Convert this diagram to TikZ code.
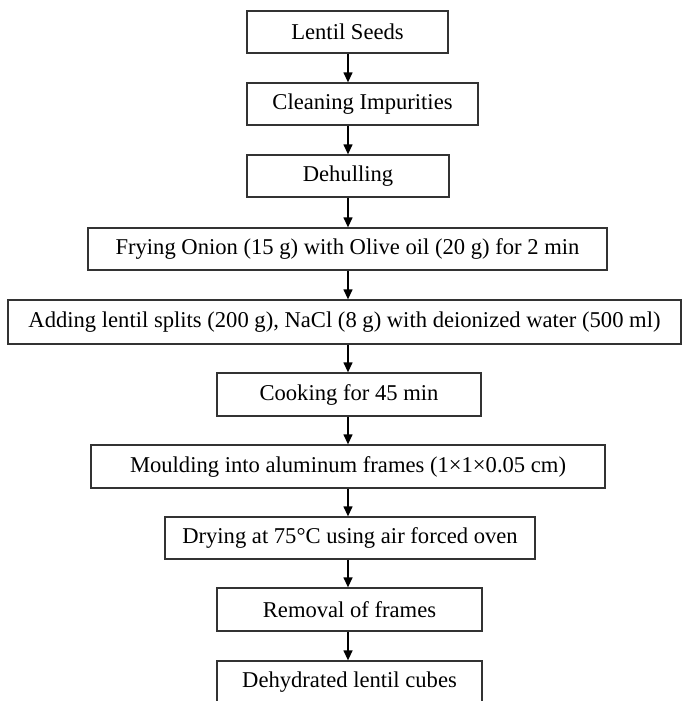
\documentclass[tikz,border=0pt]{standalone}
\usepackage{fontspec}
\setmainfont{Liberation Serif}
\usetikzlibrary{arrows.meta}
\begin{document}
\begin{tikzpicture}[x=1pt,y=-1pt,
  stepbox/.style={draw=black!80,line width=1.3pt,inner sep=0pt,
    font=\fontsize{22.6}{25}\selectfont},
  flow/.style={line width=1.3pt,-{Triangle[width=9pt,length=10pt]}}]
\useasboundingbox (0,0) rectangle (682,701);
% each step: left, top, right, bottom edges
\newcommand\stepnode[6]{%
  \node[stepbox,minimum width={#4-#2},minimum height={#5-#3}]
    (#1) at ({(#2+#4)/2},{(#3+#5)/2}) {#6};}
\stepnode{s1}{247}{11}{448}{53}{Lentil Seeds}
\stepnode{s2}{247}{83}{478}{125}{Cleaning Impurities}
\stepnode{s3}{247}{155}{449}{197}{Dehulling}
\stepnode{s4}{88}{228}{607}{270}{Frying Onion (15 g) with Olive oil (20 g) for 2 min}
\stepnode{s5}{8}{300}{681}{344}{Adding lentil splits (200 g), NaCl (8 g) with deionized water (500 ml)}
\stepnode{s6}{217}{373}{481}{416}{Cooking for 45 min}
\stepnode{s7}{91}{445}{605}{488}{Moulding into aluminum frames (1×1×0.05 cm)}
\stepnode{s8}{165}{517}{535}{559}{Drying at 75°C using air forced oven}
\stepnode{s9}{217}{588}{482}{631}{Removal of frames}
\stepnode{s10}{217}{661}{482}{704}{Dehydrated lentil cubes}
% connectors down the centre line
\foreach \a/\b in {s1/s2,s2/s3,s3/s4,s4/s5,s5/s6,s6/s7,s7/s8,s8/s9,s9/s10}
  \draw[flow] (\a.south -| 348,0) -- (\b.north -| 348,0);
\end{tikzpicture}
\end{document}
